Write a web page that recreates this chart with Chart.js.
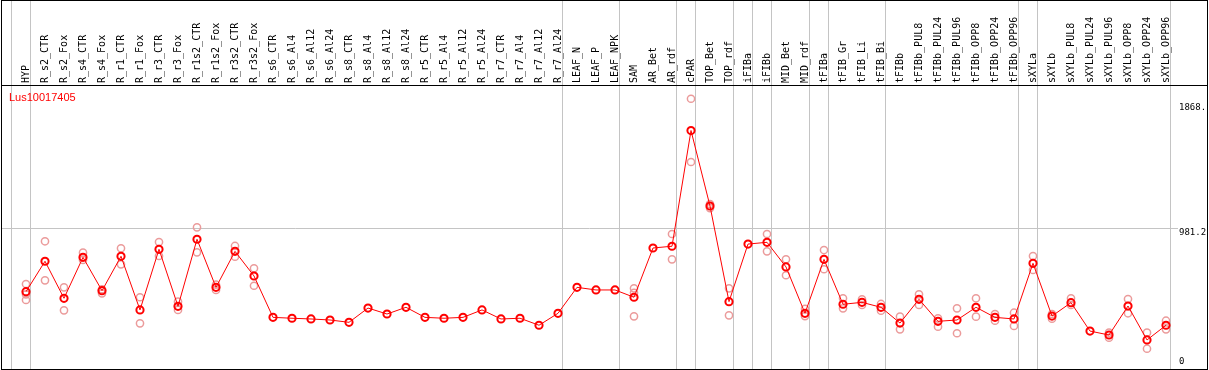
<!DOCTYPE html>
<html><head><meta charset="utf-8">
<script src="https://cdn.jsdelivr.net/npm/chart.js@4.4.1/dist/chart.umd.min.js"></script>
<style>
html,body{margin:0;padding:0;background:#fff;overflow:hidden;width:1209px;height:370px}
#wrap{position:relative;width:1209px;height:370px;overflow:hidden}
canvas{position:absolute;left:0;top:0}
#frame{position:absolute;left:1px;top:0;width:1205px;height:368px;border:1px solid #000;pointer-events:none}
#hdr{position:absolute;left:1px;top:85px;width:1207px;height:1px;background:#000}
#gene{position:absolute;left:9px;top:91px;font:11px "Liberation Sans",Arial,sans-serif;color:#f00;line-height:12px}
</style></head><body>
<div id="wrap"><canvas id="c" width="1209" height="371"></canvas><div id="frame"></div><div id="hdr"></div><div id="gene">Lus10017405</div></div>
<script>
const CATEGORIES = ['HYP','R_s2_CTR','R_s2_Fox','R_s4_CTR','R_s4_Fox','R_r1_CTR','R_r1_Fox','R_r3_CTR','R_r3_Fox','R_r1s2_CTR','R_r1s2_Fox','R_r3s2_CTR','R_r3s2_Fox','R_s6_CTR','R_s6_Al4','R_s6_Al12','R_s6_Al24','R_s8_CTR','R_s8_Al4','R_s8_Al12','R_s8_Al24','R_r5_CTR','R_r5_Al4','R_r5_Al12','R_r5_Al24','R_r7_CTR','R_r7_Al4','R_r7_Al12','R_r7_Al24','LEAF_N','LEAF_P','LEAF_NPK','SAM','AR_Bet','AR_rdf','cPAR','TOP_Bet','TOP_rdf','iFIBa','iFIBb','MID_Bet','MID_rdf','tFIBa','tFIB_Gr','tFIB_Li','tFIB_Bi','tFIBb','tFIBb_PUL8','tFIBb_PUL24','tFIBb_PUL96','tFIBb_OPP8','tFIBb_OPP24','tFIBb_OPP96','sXYLa','sXYLb','sXYLb_PUL8','sXYLb_PUL24','sXYLb_PUL96','sXYLb_OPP8','sXYLb_OPP24','sXYLb_OPP96'];

const MEANS = [544,753,499,780,551,787,419,835,444,904,574,821,652,
  368,362,357,350,334,432,391,437,368,362,368,419,357,362,314,396,
  574,556,556,506,844,856,1650,1132,476,871,883,714,396,766,458,471,437,
  329,492,341,350,437,368,357,739,377,469,274,247,446,213,314];

const REP_A = [597,890,574,812,561,842,506,885,476,986,592,858,705,
  null,null,null,null,null,null,null,null,null,null,null,null,null,null,null,null,null,null,null,
  567,null,940,1868,1146,567,null,940,766,427,830,499,492,460,
  373,526,362,430,499,391,400,789,391,499,null,263,494,263,345];

const REP_B = [487,622,416,762,533,732,327,789,419,814,556,784,585,
  null,null,null,null,null,null,null,null,null,null,null,null,null,null,null,null,null,null,null,
  375,null,766,1434,1118,382,null,821,657,377,698,430,453,414,
  286,453,304,259,373,345,309,693,359,453,null,228,396,153,286];

const REP_C = [526,null,null,null,null,null,null,null,null,null,null,null,null,
  null,null,null,null,null,null,null,null,null,null,null,null,null,null,null,null,null,null,null,
  537,null,null,null,null,null,null,null,null,null,null,null,null,null,
  null,null,null,null,null,null,null,null,null,null,null,null,null,null,null];

// last category index of each sample group (-1 = boundary before the first)
const GROUP_ENDS = [-1,0,28,31,34,35,37,38,39,41,42,45,52,53,60];

const Y_TICK_VALUES = [0, 981.2, 1868.9];
const Y_TICK_LABELS = ['0', '981.2', '1868.'];
const Y_MAX = 1962.4;

// ---- presentation ----
const STEP = 19;                 // px per category
const FIRST_PX = 26;             // px of first category
const AREA_LEFT = 1, AREA_RIGHT = 1178;
const X_MIN = (AREA_LEFT - FIRST_PX) / STEP;
const X_MAX = (AREA_RIGHT - FIRST_PX) / STEP;
const SEP_SHIFT = 4 / STEP;
const GRID = '#c4c4c4';
const sepValues = GROUP_ENDS.map(e => e + SEP_SHIFT);
const xTickValues = CATEGORIES.map((_, i) => i).concat(sepValues).sort((a, b) => a - b);
const isSep = v => !Number.isInteger(v);
const yLabelLines = [['0', '', ''], ['', '981.2'], ['', '', '1868.']];

const toXY = arr => arr.map((v, i) => ({x: i, y: v}));

new Chart(document.getElementById('c'), {
  type: 'line',
  data: {
    datasets: [
      {
        label: 'mean', data: toXY(MEANS),
        borderColor: '#ff0000', borderWidth: 1, tension: 0, fill: false,
        pointRadius: 3.6, pointBorderWidth: 2, pointBorderColor: '#ff0000',
        pointBackgroundColor: 'rgba(0,0,0,0)', pointHoverRadius: 3.6
      },
      {
        label: 'rep A', data: toXY(REP_A), showLine: false,
        pointRadius: 3.6, pointBorderWidth: 1.5, pointBorderColor: '#eb9b9b',
        pointBackgroundColor: 'rgba(0,0,0,0)'
      },
      {
        label: 'rep B', data: toXY(REP_B), showLine: false,
        pointRadius: 3.6, pointBorderWidth: 1.5, pointBorderColor: '#eb9b9b',
        pointBackgroundColor: 'rgba(0,0,0,0)'
      },
      {
        label: 'rep C', data: toXY(REP_C), showLine: false,
        pointRadius: 3.6, pointBorderWidth: 1.5, pointBorderColor: '#eb9b9b',
        pointBackgroundColor: 'rgba(0,0,0,0)'
      }
    ]
  },
  options: {
    responsive: false,
    animation: false,
    events: [],
    layout: {autoPadding: false, padding: {left: AREA_LEFT, right: 0, top: 0, bottom: 0}},
    plugins: {legend: {display: false}, tooltip: {enabled: false}},
    scales: {
      x: {
        type: 'linear', position: 'top', min: X_MIN, max: X_MAX, bounds: 'data',
        afterBuildTicks: s => { s.ticks = xTickValues.map(v => ({value: v})); },
        afterFit: s => { s.height = 85; s.paddingLeft = 0; s.paddingRight = 0; },
        border: {display: false},
        grid: {
          drawTicks: true, tickLength: 85, lineWidth: 1,
          color: c => (c.tick && isSep(c.tick.value)) ? GRID : 'rgba(0,0,0,0)'
        },
        ticks: {
          autoSkip: false, minRotation: 90, maxRotation: 90, padding: -83, labelOffset: 12,
          color: '#000', font: {family: '"DejaVu Sans Mono", monospace', size: 10},
          callback: v => isSep(v) ? '' : CATEGORIES[v]
        }
      },
      y: {
        type: 'linear', position: 'right', min: 0, max: Y_MAX, bounds: 'data',
        afterBuildTicks: s => { s.ticks = Y_TICK_VALUES.map(v => ({value: v})); },
        afterFit: s => { s.width = 1209 - AREA_RIGHT; s.paddingTop = 0; s.paddingBottom = 0; },
        border: {display: false},
        grid: {
          drawTicks: false, lineWidth: 1,
          color: c => (c.tick && c.tick.value === Y_TICK_VALUES[1]) ? GRID : 'rgba(0,0,0,0)'
        },
        ticks: {
          autoSkip: false, padding: 1, color: '#000',
          font: {family: '"DejaVu Sans Mono", monospace', size: 9, lineHeight: '9px'},
          callback: (v, i) => yLabelLines[i].map(t => t ? Y_TICK_LABELS[i] : '')
        }
      }
    }
  }
});
</script>
</body></html>
